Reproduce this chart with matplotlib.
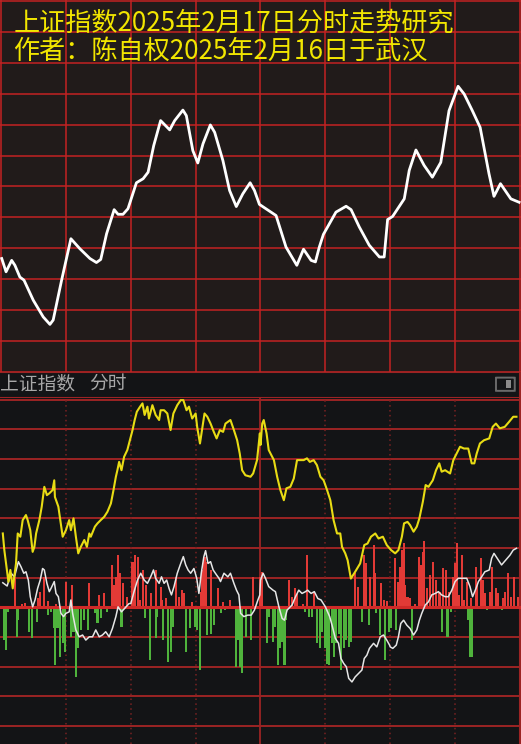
import matplotlib.pyplot as plt
from matplotlib.patches import FancyBboxPatch, Rectangle

plt.rcParams['font.family'] = ['Noto Sans CJK SC', 'DejaVu Sans']

# ---- data ----
title1 = "上证指数2025年2月17日分时走势研究"
title2 = "作者：陈自权2025年2月16日于武汉"
header_name = "上证指数"
header_mode = "分时"

# top panel: forecast curve (minute, value)
fc_t = [0.3, 2.3, 4.9, 6.4, 8.7, 10.6, 14.9, 19.5, 22.6, 24.1, 28.0, 32.3, 36.4, 41.1,
        44.1, 46.1, 48.8, 52.3, 54.1, 56.4, 58.7, 62.6, 65.7, 68.0, 70.6, 73.8, 78.0,
        80.3, 84.1, 85.7, 88.7, 91.0, 93.4, 96.8, 98.8, 102.6, 105.7, 108.8, 111.8,
        115.2, 117.2, 119.5, 127.2, 131.8, 136.8, 139.9, 143.4, 145.4, 147.2, 149.1,
        154.9, 159.6, 161.9, 165.7, 170.3, 175.0, 177.2, 178.8, 181.1, 186.5, 188.8,
        191.9, 195.7, 199.5, 203.4, 207.2, 211.4, 214.2, 218.0, 221.6, 225.7, 228.0,
        231.0, 235.8, 239.6]
fc_v = [3.67, 3.24, 3.61, 3.45, 3.07, 2.97, 2.32, 1.78, 1.54, 1.68, 2.97, 4.31, 3.99, 3.67,
        3.54, 3.64, 4.47, 5.25, 5.10, 5.10, 5.28, 6.12, 6.25, 6.46, 7.32, 8.13, 7.83,
        8.13, 8.47, 8.29, 7.16, 6.76, 7.38, 7.99, 7.75, 6.84, 5.87, 5.35, 5.76,
        6.12, 5.87, 5.42, 5.06, 4.04, 3.45, 3.97, 3.61, 3.56, 4.04, 4.45,
        5.17, 5.36, 5.25, 4.69, 4.10, 3.72, 3.72, 4.93, 5.03, 5.60, 6.52,
        7.18, 6.68, 6.30, 6.78, 8.45, 9.24, 8.99, 8.45, 7.91, 6.41, 5.68,
        6.09, 5.60, 5.49]

# bottom panel: price line (yellow)
px_t = [0.8, 1.5, 2.3, 3.4, 4.3, 5.4, 6.9, 7.7, 8.9, 10.0, 11.5, 12.3, 13.5, 14.6, 15.4,
        16.2, 17.7, 18.8, 20.0, 21.2, 22.3, 23.8, 24.6, 24.9, 26.5, 27.4, 28.5, 30.0,
        31.5, 32.3, 33.5, 34.6, 35.7, 36.9, 38.5, 39.7, 40.8, 41.5, 43.4, 44.6, 46.1,
        47.7, 49.2, 50.8, 52.0, 53.1, 53.8, 54.6, 55.7, 56.9, 58.4, 59.2, 60.8, 61.8,
        62.8, 64.3, 65.4, 66.4, 67.7, 68.4, 70.0, 71.5, 73.1, 73.8, 75.4, 76.9, 78.4,
        79.7, 81.5, 83.1, 84.3, 85.8, 86.9, 88.4, 90.0, 90.7, 92.0, 92.7, 94.1, 95.4,
        96.9, 98.4, 99.7, 101.2, 102.7, 103.8, 106.1, 107.7, 109.2, 110.4, 111.5, 113.0,
        115.4, 116.6, 118.4, 119.7, 120.0, 120.8, 121.5, 122.8, 123.8, 126.2, 127.7,
        129.2, 130.8, 132.0, 133.8, 135.4, 136.9, 138.5, 140.0, 141.5, 142.8, 144.6,
        146.1, 147.7, 149.2, 150.8, 152.3, 153.8, 155.4, 156.9, 157.7, 159.2, 160.3,
        161.8, 163.8, 166.1, 168.0, 169.5, 171.1, 173.1, 174.6, 176.6, 178.4, 180.4,
        182.3, 183.8, 185.4, 186.4, 188.0, 189.2, 190.8, 192.3, 193.5, 195.1, 196.4,
        197.7, 199.7, 201.2, 202.7, 203.8, 205.4, 207.7, 209.2, 210.7, 212.3, 214.1,
        216.1, 217.7, 218.9, 220.0, 221.5, 223.4, 225.8, 227.4, 228.9, 230.7, 233.0,
        235.0, 236.9, 238.4]
px_v = [2.49, 1.93, 1.48, 0.86, 1.26, 0.64, 1.48, 2.49, 2.38, 2.94, 3.11, 2.94, 2.60, 1.87, 2.04,
        2.49, 2.94, 3.39, 4.06, 3.78, 3.84, 3.95, 4.28, 3.72, 3.39, 2.94, 2.38, 2.60,
        2.94, 2.60, 3.00, 2.38, 1.82, 2.04, 2.27, 2.04, 2.49, 2.38, 2.72, 2.83, 2.94,
        3.05, 3.22, 3.50, 3.95, 4.40, 4.62, 4.90, 4.62, 5.07, 5.30, 5.52, 5.97, 6.31,
        6.59, 6.76, 6.87, 6.48, 6.76, 6.36, 6.81, 6.48, 6.31, 6.64, 6.64, 6.53, 5.97,
        6.53, 6.81, 6.98, 6.98, 6.64, 6.76, 6.36, 6.53, 6.08, 5.52, 5.86, 6.53, 6.42,
        6.19, 5.91, 5.69, 5.97, 5.91, 6.19, 6.31, 5.97, 5.63, 5.18, 4.62, 4.45,
        4.40, 4.51, 4.96, 5.86, 5.47, 6.19, 6.31, 5.86, 5.30, 4.96, 4.40,
        3.95, 3.61, 4.01, 4.06, 4.34, 4.96, 4.96, 4.96, 5.02, 4.90, 4.96,
        4.79, 4.40, 4.28, 3.95, 3.61, 2.94, 2.49, 2.49, 2.04, 1.82, 1.59,
        0.97, 1.20, 1.48, 2.10, 2.15, 2.38, 2.49, 2.32, 2.38, 2.10, 1.93,
        1.82, 1.93, 2.38, 2.83, 2.88, 2.77, 2.55, 2.72, 3.00, 3.56, 4.12,
        4.06, 4.28, 4.62, 4.85, 4.57, 4.62, 4.51, 4.96, 5.18, 5.41, 5.35,
        5.35, 4.85, 4.85, 5.18, 5.52, 5.63, 5.69, 6.08, 6.19, 6.03, 6.08,
        6.25, 6.42, 6.42]

# bottom panel: second line (white)
wl_t = [0.8, 2.8, 4.6, 6.2, 8.0, 9.2, 10.5, 11.5, 12.6, 13.5, 14.6, 15.7, 16.9, 18.1, 19.2,
        20.0, 21.2, 22.3, 23.1, 24.6, 25.4, 26.5, 27.7, 28.9, 30.0, 31.5, 32.3, 33.1,
        34.6, 36.1, 37.7, 39.2, 40.8, 42.3, 43.8, 45.4, 46.9, 48.4, 50.0, 51.5, 53.1,
        54.1, 55.7, 57.2, 59.2, 60.0, 61.5, 63.1, 64.6, 66.2, 67.7, 69.2, 70.5, 71.5,
        73.1, 74.2, 75.4, 76.6, 77.7, 78.8, 80.0, 81.5, 83.1, 84.3, 85.4, 86.5, 87.7,
        89.2, 90.5, 91.5, 92.6, 93.8, 94.6, 95.7, 96.9, 98.1, 99.7, 100.8, 101.5,
        103.1, 104.9, 106.1, 107.7, 108.9, 110.0, 110.8, 112.3, 114.1, 115.7, 117.2,
        118.8, 119.7, 120.0, 121.2, 122.3, 123.8, 125.8, 126.9, 128.5, 130.0, 131.1,
        132.3, 134.6, 136.2, 137.7, 139.2, 140.8, 141.8, 143.4, 144.9, 146.5, 148.0,
        150.0, 152.0, 153.1, 154.6, 156.1, 157.2, 158.5, 159.7, 160.8, 162.3, 163.8,
        165.4, 166.9, 168.0, 169.2, 170.4, 172.3, 173.8, 175.4, 176.9, 178.4, 179.7,
        180.0, 181.2, 182.8, 183.8, 184.9, 186.2, 187.7, 189.2, 190.8, 192.3, 193.5,
        194.6, 196.2, 197.7, 199.2, 200.8, 202.3, 203.8, 205.4, 206.9, 208.5, 210.0,
        211.5, 213.1, 215.4, 216.9, 218.1, 219.7, 220.8, 222.3, 223.8, 225.8, 226.9,
        228.0, 229.5, 231.5, 233.5, 235.4, 236.9, 238.4]
wl_v = [0.83, 0.72, 1.15, 1.03, 1.54, 1.37, 1.15, 1.20, 0.92, 0.36, 0.02, 0.25, 0.64, 0.92, 1.31,
        1.26, 0.81, 0.53, 0.64, 0.87, 0.47, 0.36, -0.20, -0.31, -0.20, -0.15, 0.25, -0.20,
        -0.76, -0.99, -0.93, -1.10, -0.99, -0.99, -0.76, -0.99, -0.93, -0.82, -0.99, -0.71, -0.31,
        0.02, -0.15, -0.03, 0.13, 0.13, 0.53, 0.92, 1.15, 0.92, 0.81, 1.03, 1.26, 0.98,
        0.81, 1.03, 0.81, 0.92, 0.64, 0.42, 0.70, 1.15, 1.48, 1.71, 1.43, 1.26, 1.15,
        1.31, 0.98, 0.47, 1.15, 1.71, 1.91, 1.48, 1.54, 1.26, 1.09, 0.98, 0.87,
        1.15, 1.03, 1.15, 0.81, 0.58, 0.42, -0.20, -0.31, -0.26, -0.26, -0.09,
        0.25, 0.42, 0.92, 1.15, 0.98, 0.70, 0.58, 0.53, 0.02, -0.37, -0.43,
        -0.09, 0.08, 0.36, 0.58, 0.47, 0.53, 0.58, 0.47, 0.53, 0.30, 0.25,
        0.02, -0.31, -0.60, -1.04, -1.21, -1.72, -1.89, -2.00, -2.39, -2.51, -2.34,
        -2.22, -2.11, -1.72, -1.61, -1.38, -1.21, -1.33, -0.99, -0.93, -1.10, -1.27,
        -1.33, -1.38, -1.27, -0.99, -0.54, -0.43, -0.60, -0.71, -0.93, -0.76, -0.43,
        -0.20, 0.08, 0.19, 0.42, 0.47, 0.53, 0.42, 0.36, 0.36, 0.58, 0.87,
        0.98, 0.98, 0.98, 0.70, 0.36, 0.64, 0.87, 1.03, 1.20, 1.26, 1.65,
        1.82, 1.65, 1.43, 1.60, 1.76, 1.93, 1.99]

# bottom panel: volume-style bars (positive red, negative green)
up_t = [6.5, 9.5, 11.0, 17.2, 18.1, 20.0, 21.5, 25.5, 30.0, 32.8, 40.8, 45.4, 47.7, 51.2,
        52.3, 53.0, 54.1, 55.0, 56.6, 58.1, 60.8, 61.8, 63.4, 64.3, 65.8, 66.9, 69.5,
        71.5, 73.8, 74.6, 76.5, 80.8, 82.3, 83.8, 84.6, 88.1, 92.6, 93.1, 94.1, 95.0,
        96.9, 100.3, 102.8, 105.8, 116.4, 119.7, 120.8, 133.1, 134.6, 135.8, 137.0,
        139.5, 141.5, 144.6, 163.8, 164.9, 168.0, 168.9, 170.8, 172.3, 173.1, 175.7,
        177.0, 178.5, 182.3, 183.4, 184.6, 185.4, 186.2, 186.9, 188.0, 189.2, 191.5,
        193.5, 194.2, 195.1, 195.8, 196.9, 198.5, 200.0, 201.2, 202.8, 204.3, 205.8,
        207.4, 208.9, 210.0, 211.1, 212.0, 213.1, 214.2, 215.7, 217.2, 219.7, 220.3,
        221.8, 222.8, 223.8, 226.1, 227.2, 228.9, 230.0, 232.0, 233.1, 234.6, 235.7,
        237.2, 239.2]
up_v = [1.03, 0.12, 0.15, 0.30, 0.53, 1.03, 0.20, 0.10, 0.87, 0.75, 0.81, 0.42, 0.47, 1.43,
        0.75, 1.03, 1.76, 1.15, 0.81, 0.36, 1.54, 1.76, 1.71, 0.25, 1.26, 0.75, 0.47,
        1.26, 0.70, 0.25, 0.30, 1.03, 0.36, 0.58, 0.47, 0.18, 0.53, 1.26, 1.71, 1.54,
        1.26, 0.64, 0.18, 0.25, 1.03, 1.03, 1.20, 0.92, 0.36, 0.64, 0.45,
        0.12, 1.76, 0.53, 1.15, 0.70, 1.76, 1.48, 1.03, 2.10, 1.15, 0.81,
        0.25, 0.20, 1.65, 0.87, 1.37, 1.93, 2.16, 0.75, 0.36, 0.30, 0.12,
        1.71, 1.43, 1.88, 2.25, 0.64, 1.09, 1.54, 0.92, 0.53, 1.31, 1.26,
        0.53, 1.03, 1.48, 2.16, 0.42, 1.76, 0.25, 0.87, 0.30, 1.37, 0.75,
        1.65, 0.92, 0.47, 0.53, 1.37, 0.64, 0.47, 0.30, 0.53, 1.15, 0.36,
        1.03, 0.36]
down_t = [1.2, 2.2, 3.4, 7.2, 8.0, 12.8, 14.3, 16.6, 21.5, 23.0, 24.3, 25.1, 26.1, 27.4,
          28.5, 29.7, 32.3, 33.5, 34.6, 35.7, 36.9, 38.5, 40.3, 43.5, 44.6, 46.1, 49.2,
          55.7, 66.5, 68.8, 71.5, 72.3, 75.1, 77.4, 78.8, 79.5, 85.4, 87.4, 89.7, 90.5,
          91.8, 95.4, 96.9, 98.5, 101.8, 103.4, 108.5, 109.5, 110.4, 111.5, 113.1, 115.7,
          122.8, 123.8, 125.8, 126.9, 128.0, 128.9, 130.0, 131.1, 132.0, 140.8, 142.3,
          143.8, 146.1, 147.4, 148.5, 149.7, 150.8, 151.5, 153.1, 154.1, 155.1, 156.1,
          157.4, 158.5, 159.7, 160.8, 162.0, 166.9, 170.0, 173.5, 175.1, 177.7, 179.5,
          180.3, 182.8, 190.0, 203.8, 206.5, 208.0, 216.1, 216.9, 217.7, 224.6, 231.5]
down_v = [-1.10, -1.42, -0.15, -0.99, -0.43, -0.82, -1.04, -0.48, -0.26, -0.15, -0.71, -1.94,
          -0.71, -1.66, -1.21, -1.49, -0.99, -0.82, -2.34, -1.38, -0.76, -0.43, -0.76, -0.20,
          -0.54, -0.37, -0.15, -0.65, -0.37, -1.78, -1.04, -0.31, -1.10, -1.83, -1.49, -0.65,
          -1.49, -0.71, -0.65, -0.76, -2.11, -0.93, -0.88, -0.60, -0.20, -0.09, -2.00, -1.10,
          -2.00, -2.22, -0.99, -1.10, -1.21, -0.31, -1.16, -0.65, -1.94, -1.38, -1.16, -1.94,
          -0.43, -0.15, -0.31, -0.31, -1.21, -1.38, -0.82, -1.38, -1.89, -1.94, -1.21, -1.66,
          -1.21, -0.88, -2.11, -1.38, -1.10, -1.33, -1.16, -0.48, -0.60, -0.20, -0.93, -1.78,
          -0.82, -0.71, -0.76, -1.10, -0.82, -0.99, -0.15, -0.43, -1.66, -1.66, -0.08, -0.08]

# ---- style ----
top_bg = '#211b1a'
bot_bg = '#131416'
grid_red = '#c42222'
dark_red = '#9c2424'
yellow_txt = '#f2e600'

fig = plt.figure(figsize=(5.21, 7.44), dpi=100)
fig.patch.set_facecolor(bot_bg)

# ---------------- top panel ----------------
ax = fig.add_axes([0, 0.5, 1, 0.5])
ax.set_facecolor(top_bg)
ax.set_xlim(-0.5, 240.5)
ax.set_ylim(0, 12.03)
for m in range(0, 241, 30):
    ax.axvline(m, color=grid_red, lw=1.1, zorder=1)
for v in range(0, 13):
    ax.axhline(v, color=grid_red, lw=1.1, zorder=1)
ax.plot(fc_t, fc_v, color='white', lw=2.0, solid_joinstyle='round', zorder=3)
ax.text(0.026, 0.938, title1, transform=ax.transAxes, fontsize=18.8, color=yellow_txt,
        va='center', ha='left', zorder=4)
ax.text(0.026, 0.863, title2, transform=ax.transAxes, fontsize=18.8, color=yellow_txt,
        va='center', ha='left', zorder=4)
ax.set_xticks([])
ax.set_yticks([])
for s in ax.spines.values():
    s.set_visible(False)

# ---------------- header strip ----------------
hd = fig.add_axes([0, 0.465, 1, 0.035])
hd.set_facecolor(bot_bg)
hd.set_xlim(0, 1)
hd.set_ylim(0, 1)
hd.axhline(1, color=dark_red, lw=1.5)
hd.axhline(0, color=dark_red, lw=1.5)
hd.axvline(0.9985, color=dark_red, lw=1.5)
hd.text(0.0, 0.55, header_name, fontsize=13.5, color='#a8a8a8', va='center', ha='left')
hd.text(0.172, 0.55, header_mode, fontsize=13.5, color='#a8a8a8', va='center', ha='left')
hd.add_patch(FancyBboxPatch((0.956, 0.28), 0.028, 0.5, boxstyle='round,pad=0.004',
                            fc='none', ec='#6a6a6a', lw=1.4))
hd.add_patch(Rectangle((0.972, 0.38), 0.008, 0.3, fc='#8a8a8a', ec='none'))
hd.set_xticks([])
hd.set_yticks([])
for s in hd.spines.values():
    s.set_visible(False)

# ---------------- bottom panel ----------------
bx = fig.add_axes([0, 0, 1, 0.465])
bx.set_facecolor(bot_bg)
bx.set_xlim(-0.5, 240.5)
bx.set_ylim(-4.6, 7.05)
for v in range(-4, 8):
    if v != 0:
        bx.axhline(v, color=dark_red, lw=1.4, zorder=1)
for m in [30, 60, 90, 150, 180, 210]:
    bx.axvline(m, color='#7a2222', lw=1.1, ls=(0, (1, 2.2)), zorder=1)
bx.axvline(120, color=dark_red, lw=1.3, zorder=1)
bx.axvline(240, color=dark_red, lw=1.5, zorder=1)

bx.bar(up_t, up_v, width=0.95, color='#e23a36', lw=0, zorder=2)
bx.bar(down_t, down_v, width=0.95, color='#4fb33c', lw=0, zorder=2)
bx.axhline(0, color='#d02a28', lw=2.2, zorder=3)
bx.plot(wl_t, wl_v, color='#e6e6e6', lw=1.1, zorder=4)
bx.plot(px_t, px_v, color='#e8dc14', lw=1.5, zorder=5)

bx.set_xticks([])
bx.set_yticks([])
for s in bx.spines.values():
    s.set_visible(False)

fig.savefig('out.png', dpi=100, facecolor=fig.get_facecolor())
